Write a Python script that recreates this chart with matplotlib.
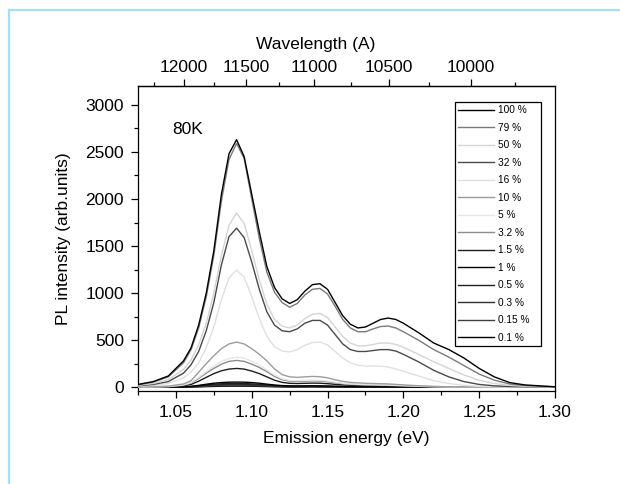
import matplotlib
matplotlib.use("Agg")
import matplotlib.pyplot as plt
from matplotlib.lines import Line2D
from matplotlib.ticker import MultipleLocator
import numpy as np

plt.rcParams['font.family'] = ['Liberation Sans', 'DejaVu Sans']

# emission energy grid (eV)
energy = [1.025, 1.035, 1.045, 1.055,
          1.060, 1.065, 1.070, 1.075, 1.080, 1.085, 1.090, 1.095, 1.100, 1.105,
          1.110, 1.115, 1.120, 1.125, 1.130, 1.135, 1.140, 1.145, 1.150, 1.155,
          1.160, 1.165, 1.170, 1.175, 1.180, 1.185, 1.190, 1.195, 1.200,
          1.210, 1.220, 1.230, 1.240, 1.250, 1.260, 1.270, 1.280, 1.290, 1.300]

labels = ['100 %', '79 %', '50 %', '32 %', '16 %', '10 %', '5 %', '3.2 %',
          '1.5 %', '1 %', '0.5 %', '0.3 %', '0.15 %', '0.1 %']
colors = ['#000000', '#7a7a7a', '#d4d4d4', '#4a4a4a', '#e0e0e0', '#9c9c9c', '#e6e6e6',
          '#8c8c8c', '#1e1e1e', '#000000', '#202020', '#303030', '#404040', '#000000']

pl_100 = [30, 60, 120, 280,
          420, 660, 1000, 1450, 2050, 2480, 2630, 2450, 2050, 1650,
          1280, 1060, 940, 890, 930, 1020, 1090, 1100, 1040, 900,
          760, 670, 630, 640, 680, 720, 735, 720, 680,
          580, 470, 400, 310, 200, 110, 50, 25, 15, 5]
pl_79 = [25, 55, 110, 260,
         400, 630, 960, 1400, 1980, 2420, 2590, 2430, 2000, 1580,
         1220, 1010, 900, 850, 890, 980, 1040, 1050, 990, 860,
         720, 630, 590, 590, 620, 645, 650, 630, 590,
         500, 400, 320, 230, 140, 75, 35, 18, 10, 5]
pl_50 = [20, 40, 80, 190,
         290, 450, 680, 1000, 1400, 1720, 1850, 1740, 1450, 1140,
         880, 720, 650, 630, 660, 730, 775, 785, 740, 640,
         540, 470, 440, 440, 455, 470, 470, 455, 425,
         350, 270, 200, 130, 75, 40, 20, 10, 5, 3]
pl_32 = [15, 30, 60, 150,
         240, 380, 600, 900, 1300, 1600, 1690, 1590, 1330, 1040,
         800, 660, 600, 590, 620, 680, 710, 710, 660, 560,
         460, 400, 380, 380, 390, 400, 400, 385, 350,
         270, 180, 110, 60, 30, 15, 8, 5, 3, 2]
pl_16 = [10, 20, 40, 100,
         160, 260, 420, 640, 930, 1160, 1245, 1170, 960, 730,
         540, 430, 385, 375, 400, 445, 475, 480, 450, 380,
         310, 260, 235, 225, 225, 225, 215, 195, 170,
         120, 70, 40, 20, 10, 5, 3, 2, 1, 1]
pl_10 = [2, 5, 12, 35,
         70, 160, 250, 335, 410, 460, 480, 460, 410, 350,
         280, 195, 135, 110, 105, 110, 115, 112, 100, 80,
         62, 52, 46, 42, 40, 38, 35, 30, 25,
         16, 9, 5, 3, 2, 1, 1, 0, 0, 0]
pl_5 = [1, 3, 8, 25,
        50, 105, 165, 225, 275, 305, 320, 308, 275, 235,
        185, 130, 90, 72, 70, 73, 76, 74, 66, 54,
        42, 35, 31, 28, 27, 25, 23, 20, 17,
        11, 6, 3, 2, 1, 1, 0, 0, 0, 0]
pl_3_2 = [1, 3, 7, 22,
          45, 95, 150, 200, 245, 275, 285, 275, 245, 210,
          165, 115, 80, 64, 62, 65, 68, 66, 58, 48,
          37, 31, 27, 25, 24, 22, 20, 18, 15,
          10, 5, 3, 2, 1, 1, 0, 0, 0, 0]
pl_1_5 = [1, 2, 5, 15,
          30, 65, 105, 145, 175, 193, 200, 193, 172, 145,
          110, 75, 52, 42, 40, 42, 44, 43, 38, 31,
          25, 21, 18, 17, 16, 15, 14, 12, 10,
          7, 4, 2, 1, 1, 0, 0, 0, 0, 0]
pl_1 = [0, 1, 2, 5,
        10, 20, 32, 43, 50, 54, 55, 54, 50, 43,
        33, 24, 18, 15, 14, 15, 16, 15, 13, 11,
        9, 8, 7, 6, 6, 5, 5, 4, 4,
        3, 2, 1, 1, 0, 0, 0, 0, 0, 0]
pl_0_5 = [0, 1, 2, 4,
          8, 15, 24, 32, 37, 40, 40, 39, 36, 31,
          24, 18, 13, 11, 10, 11, 12, 11, 10, 8,
          7, 6, 5, 5, 4, 4, 4, 3, 3,
          2, 1, 1, 0, 0, 0, 0, 0, 0, 0]
pl_0_3 = [0, 0, 1, 3,
          6, 11, 18, 24, 28, 30, 30, 29, 27, 23,
          18, 13, 10, 8, 8, 8, 9, 8, 7, 6,
          5, 4, 4, 4, 3, 3, 3, 2, 2,
          1, 1, 0, 0, 0, 0, 0, 0, 0, 0]
pl_0_15 = [0, 0, 1, 2,
           4, 7, 12, 16, 18, 20, 20, 19, 18, 15,
           12, 9, 7, 5, 5, 5, 6, 5, 5, 4,
           3, 3, 3, 2, 2, 2, 2, 1, 1,
           1, 0, 0, 0, 0, 0, 0, 0, 0, 0]
pl_0_1 = [0, 0, 0, 1,
          2, 4, 7, 9, 11, 12, 12, 12, 11, 9,
          7, 5, 4, 3, 3, 3, 4, 3, 3, 2,
          2, 2, 2, 1, 1, 1, 1, 1, 1,
          0, 0, 0, 0, 0, 0, 0, 0, 0, 0]

series = [pl_100, pl_79, pl_50, pl_32, pl_16, pl_10, pl_5, pl_3_2,
          pl_1_5, pl_1, pl_0_5, pl_0_3, pl_0_15, pl_0_1]

wl_ticks = [12000, 11500, 11000, 10500, 10000]

# top axis calibration as drawn in the original figure
WL_A = 11370.0
WL_B = 0.1075


def energy_to_wl(e):
    e = np.asarray(e, dtype=float)
    with np.errstate(divide='ignore', invalid='ignore'):
        return WL_A / (e - WL_B)


def wl_to_energy(w):
    w = np.asarray(w, dtype=float)
    with np.errstate(divide='ignore', invalid='ignore'):
        return WL_A / w + WL_B


fig = plt.figure(figsize=(6.2, 4.84), dpi=100)
ax = fig.add_axes([0.2226, 0.1921, 0.6726, 0.6302])

n = len(series)
for i, (vals, lab, col) in enumerate(zip(series, labels, colors)):
    ax.plot(energy, vals, color=col, lw=1.0, label=lab, zorder=2 + n - i)

ax.set_xlim(1.025, 1.30)
ax.set_ylim(-40, 3200)
ax.xaxis.set_major_locator(MultipleLocator(0.05))
ax.xaxis.set_minor_locator(MultipleLocator(0.025))
ax.yaxis.set_major_locator(MultipleLocator(500))
ax.yaxis.set_minor_locator(MultipleLocator(250))
ax.xaxis.set_major_formatter(plt.FormatStrFormatter('%.2f'))
ax.tick_params(which='both', direction='out', labelsize=12.5, top=False, right=False)
ax.tick_params(which='major', length=5, width=0.9, pad=5)
ax.tick_params(which='minor', length=3, width=0.9)
for sp in ax.spines.values():
    sp.set_linewidth(0.9)

ax.set_xlabel('Emission energy (eV)', fontsize=12.5, labelpad=8)
ax.set_ylabel('PL intensity (arb.units)', fontsize=12.5, labelpad=10)

top = ax.secondary_xaxis('top', functions=(energy_to_wl, wl_to_energy))
top.set_xticks(wl_ticks)
top.xaxis.set_minor_locator(MultipleLocator(250))
top.tick_params(which='both', direction='out', labelsize=12.5)
top.tick_params(which='major', length=5, width=0.9, pad=3)
top.tick_params(which='minor', length=3, width=0.9)
top.spines['top'].set_linewidth(0.9)
fig.text(316 / 620, 1 - 45 / 484, 'Wavelength (A)', fontsize=12.5, ha='center', va='center')

ax.text(0.082, 0.856, '80K', transform=ax.transAxes, fontsize=12.5, va='center', ha='left')

leg = ax.legend(loc='upper left', bbox_to_anchor=(0.760, 0.9475, 0.206, 0.0), mode='expand',
                borderaxespad=0.0, fontsize=7.3, frameon=True, fancybox=False,
                edgecolor='black', framealpha=1.0, borderpad=0.3, labelspacing=0.74,
                handlelength=3.6, handletextpad=0.3)
leg.get_frame().set_linewidth(0.9)

# light blue page frame
fig.add_artist(Line2D([9 / 620, 1.0], [1 - 10 / 484, 1 - 10 / 484], color='#a6def5', lw=1.6))
fig.add_artist(Line2D([9 / 620, 9 / 620], [0.0, 1 - 10 / 484], color='#a6def5', lw=1.6))

fig.savefig('out.png', dpi=100)
